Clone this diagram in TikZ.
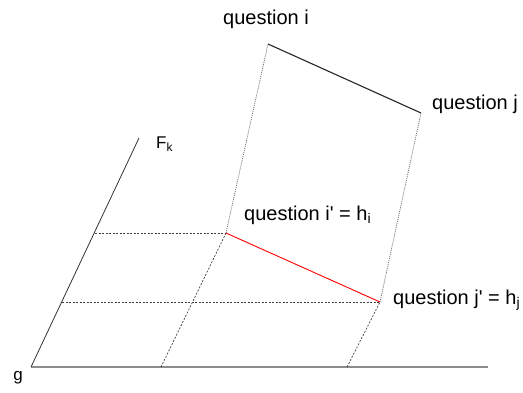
\documentclass[tikz,border=0pt]{standalone}
\usepackage{fontspec}
\setmainfont{Liberation Sans}

\begin{document}
\begin{tikzpicture}[x=1pt, y=-1pt,
		lbl/.style={font=\fontsize{20}{24}\selectfont, inner sep=0pt},
		axlbl/.style={font=\fontsize{17}{20}\selectfont, inner sep=0pt},
		grid/.style={black!75, dash pattern=on 2pt off 1.5pt, line width=0.7pt},
		rise/.style={black!55, dash pattern=on 1pt off 1pt, line width=0.8pt}]
		\useasboundingbox (0,0) rectangle (523,392);

		\coordinate (G) at (31, 367);
		\coordinate (Gend) at (488, 367);
		\coordinate (Ftop) at (139, 138);
		\coordinate (Fi) at (95, 233);
		\coordinate (Fj) at (62, 302);
		\coordinate (Bi) at (161, 367);
		\coordinate (Bj) at (347, 367);
		\coordinate (Ii) at (226, 233);
		\coordinate (Jj) at (380, 302);
		\coordinate (Qi) at (268, 44);
		\coordinate (Qj) at (421, 113);

		% axes
		\draw[black!45, line width=2pt] (G) -- (Gend);
		\draw[black!80, line width=0.8pt] (G) -- (Ftop);

		% projections
		\draw[grid] (Fi) -- (Ii);
		\draw[grid] (Fj) -- (Jj);
		\draw[grid] (Bi) -- (Ii);
		\draw[grid] (Bj) -- (Jj);
		\draw[rise] (Ii) -- (Qi);
		\draw[rise] (Jj) -- (Qj);

		\draw[black!85, line width=1.1pt] (Qi) -- (Qj);
		\draw[red, line width=0.9pt] (Ii) -- (Jj);

		\node[lbl] (labI) at (266, 19) {question i};
		\node[lbl, anchor=west] (labJ) at (432, 104) {question j};
		\node[lbl, anchor=west] (labIp) at (244, 215) {question i\textquotesingle{} = h\textsubscript{i}};
		\node[lbl, anchor=west] (labJp) at (393, 300) {question j\textquotesingle{} = h\textsubscript{j}};
		\node[axlbl, anchor=west] (labF) at (156, 144) {F\textsubscript{k}};
		\node[axlbl] (labG) at (18, 378) {g};
	\end{tikzpicture}
\end{document}
